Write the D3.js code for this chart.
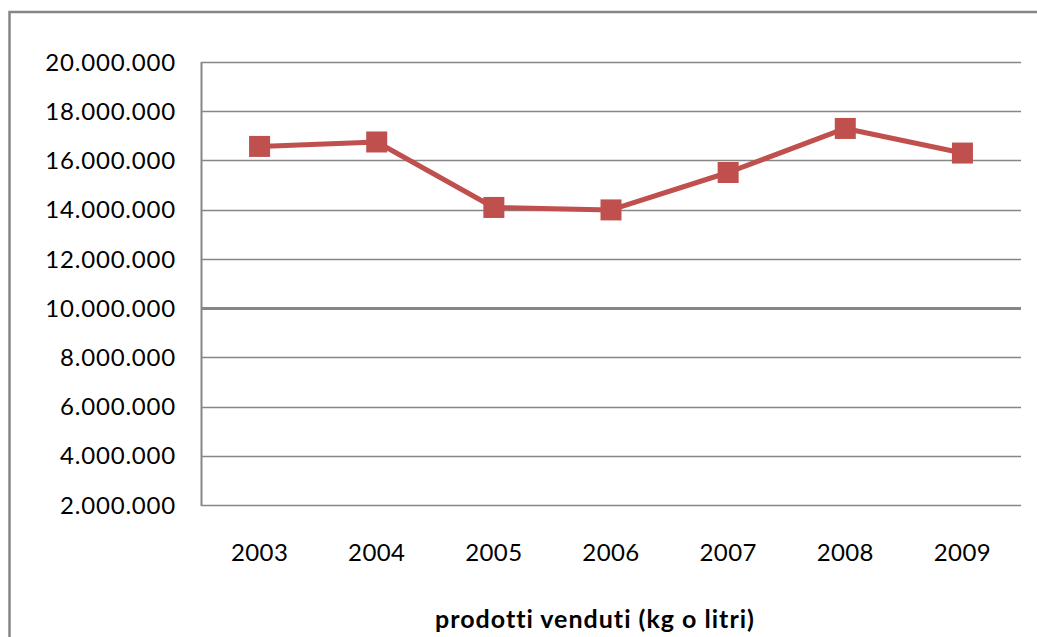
<!DOCTYPE html>
<html lang="it">
<head>
<meta charset="UTF-8">
<title>prodotti venduti (kg o litri)</title>
<script src="https://d3js.org/d3.v7.min.js"></script>
<style>
    body { margin: 0; background: #fff; }
    svg text { font-family: Lato, "Open Sans", sans-serif; fill: #000; }
</style>
</head>
<body>
<svg id="chart" width="1037" height="637"></svg>
<script>
    // data
    const years = ["2003", "2004", "2005", "2006", "2007", "2008", "2009"];
    const sold = [16570000, 16750000, 14090000, 13990000, 15510000, 17300000, 16300000];
    const yTicks = [2000000, 4000000, 6000000, 8000000, 10000000, 12000000, 14000000, 16000000, 18000000, 20000000];
    const axisTitle = "prodotti venduti (kg o litri)";

    const svg = d3.select("#chart");
    const grey = "#868686";
    const red = "#C0504D";

    // outer chart frame (runs past the right and bottom edges)
    svg.append("path")
        .attr("d", "M9.5,637 L9.5,12 L1037,12")
        .attr("fill", "none")
        .attr("stroke", grey)
        .attr("stroke-width", 2.5);

    const plotLeft = 201, plotRight = 1021, plotTop = 62, plotBottom = 505;

    const x = d3.scaleBand().domain(years).range([plotLeft, plotRight]);
    const y = d3.scaleLinear().domain([2000000, 20000000]).range([plotBottom, plotTop]);

    const fmt = d3.formatLocale({ decimal: ",", thousands: ".", grouping: [3], currency: ["", "€"] }).format(",.0f");

    // gridlines
    svg.append("g")
        .selectAll("line")
        .data(yTicks)
        .join("line")
        .attr("x1", plotLeft)
        .attr("x2", plotRight)
        .attr("y1", d => Math.round(y(d)) + 0.5)
        .attr("y2", d => Math.round(y(d)) + 0.5)
        .attr("stroke", grey)
        .attr("stroke-width", d => d === 10000000 ? 3 : 1.5);

    // y axis line
    svg.append("line")
        .attr("x1", plotLeft + 0.5).attr("x2", plotLeft + 0.5)
        .attr("y1", plotTop).attr("y2", plotBottom + 1)
        .attr("stroke", grey)
        .attr("stroke-width", 2);

    // y tick labels
    svg.append("g")
        .selectAll("text")
        .data(yTicks)
        .join("text")
        .attr("x", 176)
        .attr("y", d => y(d))
        .attr("dy", "0.36em")
        .attr("text-anchor", "end")
        .attr("font-size", 24)
        .attr("letter-spacing", 0.8)
        .text(d => fmt(d));

    // x labels
    svg.append("g")
        .selectAll("text")
        .data(years)
        .join("text")
        .attr("x", d => x(d) + x.bandwidth() / 2)
        .attr("y", 561)
        .attr("text-anchor", "middle")
        .attr("font-size", 24)
        .attr("letter-spacing", 0.4)
        .text(d => d);

    // series line
    const line = d3.line()
        .x((d, i) => x(years[i]) + x.bandwidth() / 2)
        .y(d => y(d));

    svg.append("path")
        .datum(sold)
        .attr("d", line)
        .attr("fill", "none")
        .attr("stroke", red)
        .attr("stroke-width", 5)
        .attr("stroke-linejoin", "round");

    // square markers
    const m = 21;
    svg.append("g")
        .selectAll("rect")
        .data(sold)
        .join("rect")
        .attr("x", (d, i) => x(years[i]) + x.bandwidth() / 2 - m / 2)
        .attr("y", d => y(d) - m / 2)
        .attr("width", m)
        .attr("height", m)
        .attr("fill", red);

    // axis title
    svg.append("text")
        .attr("x", 595)
        .attr("y", 628)
        .attr("text-anchor", "middle")
        .attr("font-size", 25)
        .attr("font-weight", "bold")
        .attr("letter-spacing", 1)
        .text(axisTitle);
</script>
</body>
</html>
